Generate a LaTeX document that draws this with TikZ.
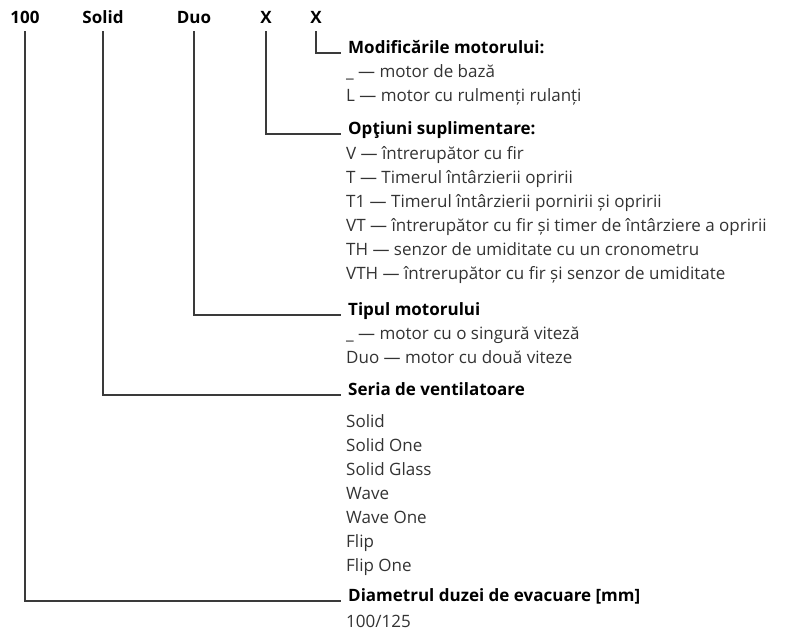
\documentclass[tikz,border=0pt]{standalone}
\usepackage{fontspec}
\setmainfont{Open Sans}
\definecolor{linec}{HTML}{3A3A3A}
\definecolor{itemc}{HTML}{333333}
\begin{document}
\begin{tikzpicture}[x=1pt,y=-1pt,
  toplab/.style={font=\fontsize{17}{20}\selectfont\bfseries, anchor=base, inner sep=0pt},
  head/.style={font=\fontsize{17}{20}\selectfont\bfseries, anchor=base west, inner sep=0pt},
  item/.style={font=\fontsize{17}{20}\selectfont, text=itemc, anchor=base west, inner sep=0pt},
  conn/.style={draw=linec, line width=1.3pt}]
\useasboundingbox (0,0) rectangle (799,633);
% top code
\node[toplab] (n100) at (25,23) {100};
\node[toplab] (nsol) at (103,23) {Solid};
\node[toplab] (nduo) at (194,23) {Duo};
\node[toplab] (nx1) at (266,23) {X};
\node[toplab] (nx2) at (316,23) {X};
% headings
\node[head] (hmod) at (348,53) {Modificările motorului:};
\node[head] (hopt) at (348,134) {Opţiuni suplimentare:};
\node[head] (htip) at (348,315) {Tipul motorului};
\node[head] (hser) at (348,395) {Seria de ventilatoare};
\node[head] (hdia) at (348,601) {Diametrul duzei de evacuare [mm]};
% items
\node[item] (m1) at (346,77) {\_ — motor de bază};
\node[item] (m2) at (346,101) {L — motor cu rulmenți rulanți};
\node[item] (o1) at (346,159) {V — întrerupător cu fir};
\node[item] (o2) at (346,183) {T — Timerul întârzierii opririi};
\node[item] (o3) at (346,207) {T1 — Timerul întârzierii pornirii și opririi};
\node[item] (o4) at (346,231) {VT — întrerupător cu fir și timer de întârziere a opririi};
\node[item] (o5) at (346,255) {TH — senzor de umiditate cu un cronometru};
\node[item] (o6) at (346,279) {VTH — întrerupător cu fir și senzor de umiditate};
\node[item] (t1) at (346,339) {\_ — motor cu o singură viteză};
\node[item] (t2) at (346,363) {Duo — motor cu două viteze};
\node[item] (s1) at (346,427) {Solid};
\node[item] (s2) at (346,451) {Solid One};
\node[item] (s3) at (346,475) {Solid Glass};
\node[item] (s4) at (346,499) {Wave};
\node[item] (s5) at (346,523) {Wave One};
\node[item] (s6) at (346,547) {Flip};
\node[item] (s7) at (346,571) {Flip One};
\node[item] (d1) at (346,627) {100/125};
% connectors
\draw[conn] ([yshift=-8pt]nx2.base) |- ([xshift=-7pt]hmod.base west);
\draw[conn] ([yshift=-8pt]nx1.base) |- ([xshift=-7pt]hopt.base west);
\draw[conn] ([yshift=-8pt]nduo.base) |- ([xshift=-7pt]htip.base west);
\draw[conn] ([yshift=-8pt]nsol.base) |- ([xshift=-7pt]hser.base west);
\draw[conn] ([yshift=-8pt]n100.base) |- ([xshift=-7pt]hdia.base west);
\end{tikzpicture}
\end{document}
